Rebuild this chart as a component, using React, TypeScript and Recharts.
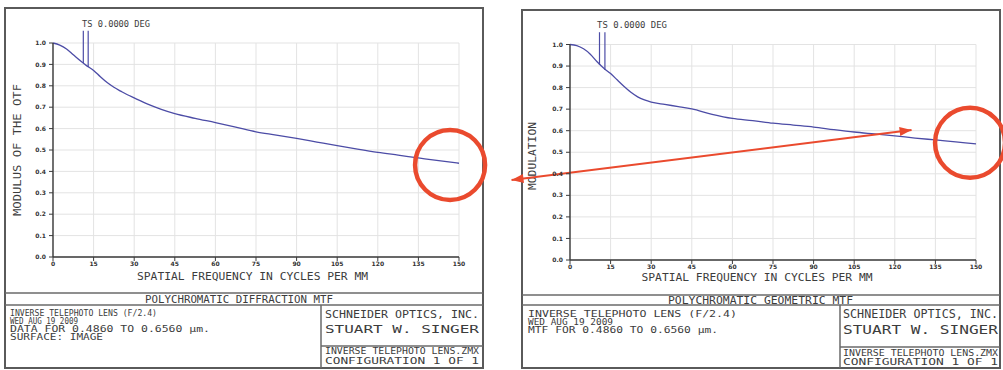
import React from "react";
import {
  LineChart, Line, XAxis, YAxis, CartesianGrid, ReferenceLine, ReferenceDot,
} from "recharts";

// spatial frequency, cycles/mm
const freqs = [0, 2.5, 5, 7.5, 10, 12.5, 15, 17.5, 20, 22.5, 25, 27.5, 30, 35, 40, 45, 52.5, 60, 67.5, 75, 82.5, 90, 97.5, 105, 112.5, 120, 127.5, 135, 142.5, 150];
const diffractionMtf = [1.0, 0.99, 0.972, 0.945, 0.918, 0.893, 0.872, 0.842, 0.815, 0.793, 0.775, 0.758, 0.744, 0.714, 0.69, 0.67, 0.648, 0.628, 0.607, 0.585, 0.57, 0.554, 0.537, 0.52, 0.504, 0.489, 0.476, 0.463, 0.45, 0.438];
const geometricMtf = [1.0, 0.995, 0.98, 0.955, 0.92, 0.89, 0.865, 0.835, 0.805, 0.778, 0.757, 0.743, 0.733, 0.722, 0.712, 0.701, 0.676, 0.657, 0.647, 0.635, 0.626, 0.617, 0.605, 0.594, 0.585, 0.576, 0.566, 0.557, 0.548, 0.539];

const xTicks = [0, 15, 30, 45, 60, 75, 90, 105, 120, 135, 150];
const yTicks = [0, 0.1, 0.2, 0.3, 0.4, 0.5, 0.6, 0.7, 0.8, 0.9, 1.0];

// "TS" legend marker lines: [freq, value where they meet the curve]
const diffMarkers = [[11.2, 0.907], [13.0, 0.889]];
const geoMarkers = [[10.9, 0.905], [12.9, 0.882]];
const markerTop = 1.057;

// red highlight annotations, in data units
const diffCircle = { x: 146.7, y: 0.43 };
const geoCircle = { x: 147.8, y: 0.544 };
const arrowEnds = [{ x: -21.6, y: 0.371 }, { x: 126.2, y: 0.603 }];

const AX = "#3a3a3a";
const GRID = "#e3e3e3";
const BLUE = "#4c4ca6";
const RED = "#ea4a2e";
const INK = "#3c3c3c";
const MONO = "'DejaVu Sans Mono', monospace";

const tickStyle = { fontSize: 6, fill: "#333", fontFamily: "'DejaVu Sans'", fontWeight: 700 };

function ArrowShape(props: any) {
  const { x1, y1, x2, y2 } = props;
  const a = Math.atan2(y2 - y1, x2 - x1);
  const head = (x: number, y: number, ang: number) => {
    const L = 12, W = 4.5;
    const bx = x - L * Math.cos(ang), by = y - L * Math.sin(ang);
    const px = -Math.sin(ang) * W, py = Math.cos(ang) * W;
    return `${x},${y} ${bx + px},${by + py} ${bx - px},${by - py}`;
  };
  return (
    <g>
      <line x1={x1} y1={y1} x2={x2} y2={y2} stroke={RED} strokeWidth={2} />
      <polygon points={head(x2, y2, a)} fill={RED} />
      <polygon points={head(x1, y1, a + Math.PI)} fill={RED} />
    </g>
  );
}

function MtfPlot({ values, markers, circle, arrow, width, height, margin }: any) {
  const data = freqs.map((f, i) => ({ f, v: values[i] }));
  return (
    <LineChart width={width} height={height} data={data} margin={margin}>
      <CartesianGrid stroke={GRID} strokeWidth={1} />
      <XAxis dataKey="f" type="number" domain={[0, 150]} ticks={xTicks} interval={0} height={20}
        tickSize={4} tickMargin={1} axisLine={{ stroke: AX, strokeWidth: 1.4 }} tickLine={{ stroke: AX }}
        tick={tickStyle} />
      <XAxis xAxisId="top" orientation="top" type="number" domain={[0, 150]} ticks={xTicks} interval={0}
        height={0} mirror tickSize={4} tickFormatter={() => ""} axisLine={{ stroke: AX, strokeWidth: 1.4 }}
        tickLine={{ stroke: AX }} />
      <YAxis type="number" domain={[0, 1]} ticks={yTicks} interval={0} width={30} tickSize={4} tickMargin={3}
        tickFormatter={(v: number) => v.toFixed(1)} axisLine={{ stroke: AX, strokeWidth: 1.4 }}
        tickLine={{ stroke: AX }} tick={tickStyle} />
      <YAxis yAxisId="right" orientation="right" type="number" domain={[0, 1]} ticks={yTicks} interval={0}
        width={0} mirror tickSize={4} tickFormatter={() => ""} axisLine={{ stroke: AX, strokeWidth: 1.4 }}
        tickLine={{ stroke: AX }} />
      <Line dataKey="v" type="monotone" stroke={BLUE} strokeWidth={1.3} dot={false} isAnimationActive={false} />
      {markers.map((m: number[], i: number) => (
        <ReferenceLine key={i} segment={[{ x: m[0], y: m[1] }, { x: m[0], y: markerTop }]}
          stroke={BLUE} strokeWidth={1.2} ifOverflow="visible" />
      ))}
      <ReferenceDot x={circle.x} y={circle.y} r={35} fill="none" stroke={RED} strokeWidth={4.5} ifOverflow="visible" />
      {arrow && <ReferenceLine segment={arrow} ifOverflow="visible" shape={ArrowShape} />}
    </LineChart>
  );
}

function T({ x, y, len, size, children, anchor, rotate }: any) {
  return (
    <text x={x} y={y} fontSize={size} fontFamily={MONO} fill={INK} dominantBaseline="central"
      textAnchor={anchor || "start"} textLength={len} lengthAdjust="spacingAndGlyphs"
      transform={rotate ? `rotate(-90 ${x} ${y})` : undefined}>
      {children}
    </text>
  );
}

function Frames() {
  const s = { stroke: "#5a5a5a", strokeWidth: 2, fill: "none" };
  const t = { stroke: "#6a6a6a", strokeWidth: 1.5 };
  return (
    <svg width={1003} height={370} style={{ position: "absolute", left: 0, top: 0 }}>
      <rect x={0} y={0} width={1003} height={370} fill="#fff" />
      {/* left panel */}
      <rect x={5} y={8} width={478} height={360} {...s} />
      <line x1={5} y1={293} x2={483} y2={293} {...t} />
      <line x1={5} y1={305} x2={483} y2={305} {...t} />
      <line x1={321} y1={305} x2={321} y2={368} {...t} />
      <line x1={321} y1={346} x2={483} y2={346} {...t} />
      <T x={82} y={24} len={68} size={9}>TS 0.0000 DEG</T>
      <T x={17} y={150} len={132} size={11} anchor="middle" rotate>MODULUS OF THE OTF</T>
      <T x={252.5} y={276.5} len={231} size={10} anchor="middle">SPATIAL FREQUENCY IN CYCLES PER MM</T>
      <T x={239} y={299.5} len={188} size={10} anchor="middle">POLYCHROMATIC DIFFRACTION MTF</T>
      <T x={10} y={313.5} len={147} size={8}>INVERSE TELEPHOTO LENS (F/2.4)</T>
      <T x={10} y={321.5} len={68} size={8}>WED AUG 19 2009</T>
      <T x={10} y={329.5} len={200} size={8}>DATA FOR 0.4860 TO 0.6560 µm.</T>
      <T x={10} y={337.5} len={93} size={8}>SURFACE: IMAGE</T>
      <T x={325} y={314.5} len={154} size={11}>SCHNEIDER OPTICS, INC.</T>
      <T x={325} y={329.3} len={154} size={11}>STUART W. SINGER</T>
      <T x={325} y={351} len={154} size={8.5}>INVERSE TELEPHOTO LENS.ZMX</T>
      <T x={325} y={361} len={154} size={8.5}>CONFIGURATION 1 OF 1</T>
      {/* right panel */}
      <rect x={522} y={10} width={478} height={358} {...s} />
      <line x1={522} y1={295} x2={1000} y2={295} {...t} />
      <line x1={522} y1={305} x2={1000} y2={305} {...t} />
      <line x1={840} y1={305} x2={840} y2={368} {...t} />
      <line x1={840} y1={347} x2={1000} y2={347} {...t} />
      <T x={597} y={25} len={70} size={9}>TS 0.0000 DEG</T>
      <T x={532} y={156} len={68} size={10.5} anchor="middle" rotate>MODULATION</T>
      <T x={757} y={277.7} len={231} size={10} anchor="middle">SPATIAL FREQUENCY IN CYCLES PER MM</T>
      <T x={760.5} y={300} len={185} size={10} anchor="middle">POLYCHROMATIC GEOMETRIC MTF</T>
      <T x={528} y={313.5} len={209} size={9}>INVERSE TELEPHOTO LENS (F/2.4)</T>
      <T x={528} y={321.5} len={85} size={9}>WED AUG 19 2009</T>
      <T x={528} y={329.5} len={190} size={9}>MTF FOR 0.4860 TO 0.6560 µm.</T>
      <T x={843} y={313.5} len={155} size={11.5}>SCHNEIDER OPTICS, INC.</T>
      <T x={843} y={330} len={155} size={11.5}>STUART W. SINGER</T>
      <T x={843} y={352.7} len={155} size={9}>INVERSE TELEPHOTO LENS.ZMX</T>
      <T x={843} y={362.3} len={155} size={9}>CONFIGURATION 1 OF 1</T>
    </svg>
  );
}

export default function App() {
  return (
    <div style={{ position: "absolute", left: 0, top: 0, width: 1003, height: 370, overflow: "hidden", background: "#fff" }}>
      <style>{"html,body{margin:0;overflow:hidden}"}</style>
      <Frames />
      <div style={{ position: "absolute", left: 0, top: 0 }}>
        <MtfPlot values={diffractionMtf} markers={diffMarkers} circle={diffCircle} width={490} height={290}
          margin={{ top: 43, right: 31, bottom: 13, left: 23 }} />
      </div>
      <div style={{ position: "absolute", left: 495, top: 0 }}>
        <MtfPlot values={geometricMtf} markers={geoMarkers} circle={geoCircle} arrow={arrowEnds} width={508} height={290}
          margin={{ top: 44.5, right: 27, bottom: 10, left: 45 }} />
      </div>
    </div>
  );
}
